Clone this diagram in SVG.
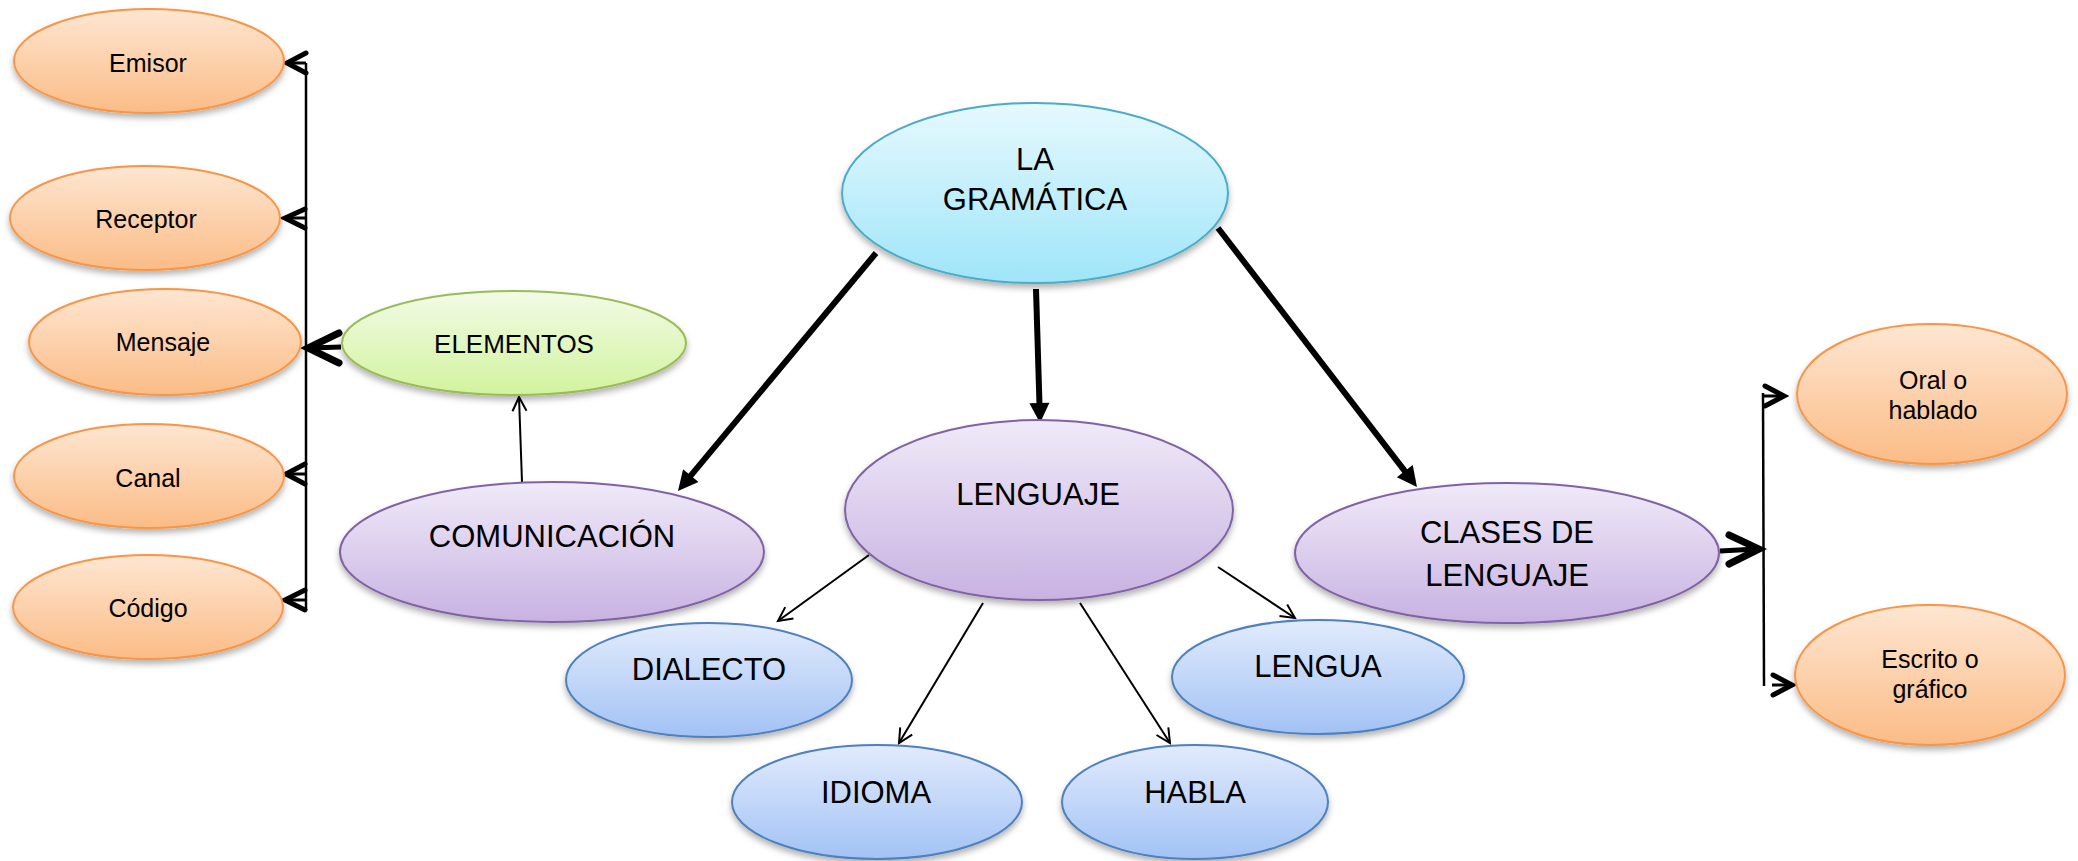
<svg xmlns="http://www.w3.org/2000/svg" width="2078" height="861" viewBox="0 0 2078 861">
<style>
text{font-family:"Liberation Sans",Arial,sans-serif;fill:#000;text-anchor:middle}
.s{font-size:25px}
.m{font-size:26px}
.l{font-size:31px}
.or{fill:url(#gOr);stroke:#f79646;stroke-width:2;filter:url(#sh)}
.pu{fill:url(#gPu);stroke:#8064a2;stroke-width:2;filter:url(#sh)}
.bl{fill:url(#gBl);stroke:#4f81bd;stroke-width:2;filter:url(#sh)}
.cy{fill:url(#gCy);stroke:#4bacc6;stroke-width:2;filter:url(#sh)}
.gr{fill:url(#gGr);stroke:#9bbb59;stroke-width:2;filter:url(#sh)}
.thick{stroke:#000;stroke-width:6;fill:none;marker-end:url(#tri)}
.thin{stroke:#000;stroke-width:2;fill:none;marker-end:url(#vee)}
.bar{stroke:#000;stroke-width:2.5;fill:none}
.shaft{stroke:#000;stroke-width:3;fill:none}
.shaftL{stroke:#000;stroke-width:5;fill:none}
.chS{stroke:#000;stroke-width:5;fill:none;stroke-linecap:round;stroke-linejoin:miter}
.chL{stroke:#000;stroke-width:7;fill:none;stroke-linecap:round;stroke-linejoin:miter}
</style>
<defs>
<linearGradient id="gOr" x1="0" y1="0" x2="0" y2="1"><stop offset="0" stop-color="#fee6d2"/><stop offset="1" stop-color="#fbbc86"/></linearGradient>
<linearGradient id="gPu" x1="0" y1="0" x2="0" y2="1"><stop offset="0" stop-color="#f0eaf8"/><stop offset="1" stop-color="#c8b2e2"/></linearGradient>
<linearGradient id="gBl" x1="0" y1="0" x2="0" y2="1"><stop offset="0" stop-color="#e2ebfc"/><stop offset="1" stop-color="#a2c2f5"/></linearGradient>
<linearGradient id="gCy" x1="0" y1="0" x2="0" y2="1"><stop offset="0" stop-color="#e6f9fe"/><stop offset="1" stop-color="#9fe5f9"/></linearGradient>
<linearGradient id="gGr" x1="0" y1="0" x2="0" y2="1"><stop offset="0" stop-color="#f2fbe6"/><stop offset="1" stop-color="#d2f39e"/></linearGradient>
<filter id="sh" x="-10%" y="-10%" width="120%" height="130%"><feDropShadow dx="0" dy="4" stdDeviation="3" flood-color="#000" flood-opacity="0.3"/></filter>
<marker id="tri" markerUnits="userSpaceOnUse" markerWidth="22" markerHeight="22" refX="2" refY="10" orient="auto" overflow="visible"><path d="M0,0 L20,10 L0,20 Z" fill="#000"/></marker>
<marker id="vee" markerUnits="userSpaceOnUse" markerWidth="16" markerHeight="16" refX="14" refY="7" orient="auto" overflow="visible"><path d="M0,0 L14,7 L0,14" fill="none" stroke="#000" stroke-width="2"/></marker>
</defs>

<g id="connectors">
<line class="thick" x1="876" y1="253" x2="689.5" y2="477.2"/>
<line class="thick" x1="1036" y1="289" x2="1039.5" y2="405"/>
<line class="thick" x1="1218" y1="228" x2="1406" y2="472.7"/>
<line class="thin" x1="522" y1="482" x2="519" y2="397"/>
<line class="thin" x1="869" y1="555" x2="778" y2="621"/>
<line class="thin" x1="983" y1="603" x2="899" y2="743"/>
<line class="thin" x1="1080" y1="603" x2="1170" y2="743"/>
<line class="thin" x1="1218" y1="567" x2="1295" y2="618"/>
<line class="bar" x1="306" y1="63" x2="306" y2="610"/>
<line class="shaft" x1="306" y1="63" x2="288" y2="63"/>
<polyline class="chS" points="306,53 287,63 306,73"/>
<line class="shaft" x1="306" y1="218" x2="286" y2="218"/>
<polyline class="chS" points="305,209 285,218 305,228"/>
<line class="shaft" x1="306" y1="474" x2="287" y2="474"/>
<polyline class="chS" points="305,464 286,474 305,484"/>
<line class="shaft" x1="306" y1="600" x2="286" y2="600"/>
<polyline class="chS" points="305,590 285,600 305,610"/>
<line class="shaftL" x1="341" y1="347" x2="310" y2="348"/>
<polyline class="chL" points="339,333 308,348 339,363"/>
<line class="shaftL" x1="1720" y1="551" x2="1757" y2="549"/>
<polyline class="chL" points="1729,535 1759,549 1729,564"/>
<line class="bar" x1="1763" y1="393" x2="1764" y2="686"/>
<line class="shaft" x1="1763" y1="396" x2="1783" y2="396"/>
<polyline class="chS" points="1765,386 1784,396 1765,406"/>
<line class="shaft" x1="1772" y1="685" x2="1791" y2="685"/>
<polyline class="chS" points="1773,675 1792,685 1773,695"/>
</g>

<g id="n-emisor"><ellipse class="or" cx="149" cy="61" rx="135" ry="52"/><text class="s" x="148" y="72">Emisor</text></g>
<g id="n-receptor"><ellipse class="or" cx="145" cy="218" rx="135" ry="52"/><text class="s" x="146" y="228">Receptor</text></g>
<g id="n-mensaje"><ellipse class="or" cx="165" cy="342" rx="136" ry="53"/><text class="s" x="163" y="351">Mensaje</text></g>
<g id="n-canal"><ellipse class="or" cx="149" cy="476" rx="135" ry="52"/><text class="s" x="148" y="487">Canal</text></g>
<g id="n-codigo"><ellipse class="or" cx="148" cy="607" rx="135" ry="52"/><text class="s" x="148" y="617">Código</text></g>

<g id="n-elementos"><ellipse class="gr" cx="514" cy="343" rx="172" ry="52"/><text class="m" x="514" y="353">ELEMENTOS</text></g>
<g id="n-comunicacion"><ellipse class="pu" cx="552" cy="552" rx="212" ry="70"/><text class="l" x="552" y="547">COMUNICACIÓN</text></g>
<g id="n-gramatica"><ellipse class="cy" cx="1035" cy="193" rx="193" ry="90"/><text class="l" x="1035" y="170">LA</text><text class="l" x="1035" y="210">GRAMÁTICA</text></g>
<g id="n-lenguaje"><ellipse class="pu" cx="1039" cy="510" rx="194" ry="90"/><text class="l" x="1038" y="505">LENGUAJE</text></g>
<g id="n-clases"><ellipse class="pu" cx="1507" cy="553" rx="212" ry="70"/><text class="l" x="1507" y="543">CLASES DE</text><text class="l" x="1507" y="586">LENGUAJE</text></g>
<g id="n-dialecto"><ellipse class="bl" cx="709" cy="680" rx="143" ry="57"/><text class="l" x="709" y="680">DIALECTO</text></g>
<g id="n-idioma"><ellipse class="bl" cx="877" cy="802" rx="145" ry="57"/><text class="l" x="876" y="803">IDIOMA</text></g>
<g id="n-habla"><ellipse class="bl" cx="1195" cy="802" rx="133" ry="57"/><text class="l" x="1195" y="803">HABLA</text></g>
<g id="n-lengua"><ellipse class="bl" cx="1318" cy="677" rx="146" ry="57"/><text class="l" x="1318" y="677">LENGUA</text></g>
<g id="n-oral"><ellipse class="or" cx="1932" cy="394" rx="135" ry="70"/><text class="s" x="1933" y="389">Oral o</text><text class="s" x="1933" y="419">hablado</text></g>
<g id="n-escrito"><ellipse class="or" cx="1930" cy="675" rx="135" ry="70"/><text class="s" x="1930" y="668">Escrito o</text><text class="s" x="1930" y="698">gráfico</text></g>
</svg>
